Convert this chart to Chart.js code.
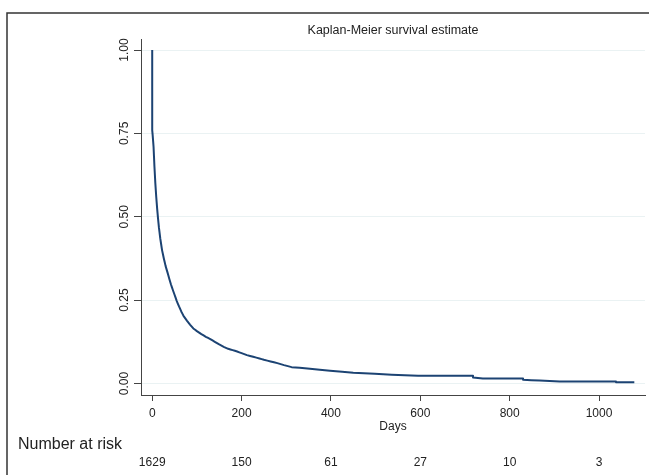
<!DOCTYPE html>
<html>
<head>
<meta charset="utf-8">
<script src="https://cdn.jsdelivr.net/npm/chart.js@4.4.1/dist/chart.umd.min.js"></script>
<style>
  body { margin: 0; background: #fff; }
  canvas { display: block; }
</style>
</head>
<body>
<canvas id="kmChart" width="649" height="475"></canvas>
<script>
// KM curve (days, survival); repeated days mark the visible drops
const days = [0, 0, 1, 3, 5, 7, 9, 11, 13, 15, 18, 22, 26, 30, 34, 38, 42, 46, 50, 55, 60,
  65, 70, 78, 85, 92, 100, 110, 120, 130, 140, 150, 160, 170, 180, 190, 200, 212, 226, 240, 250,
  265, 280, 295, 312, 330, 353, 375, 398, 425, 450, 498, 536, 595, 718, 718, 740, 830, 830, 867,
  912, 1038, 1038, 1079];
const survival = [1.000, 0.76, 0.745, 0.71, 0.65, 0.60, 0.56, 0.525, 0.495, 0.468, 0.435,
  0.400, 0.375, 0.352, 0.334, 0.315, 0.297, 0.281, 0.266, 0.247, 0.231,
  0.216, 0.203, 0.188, 0.176, 0.165, 0.157, 0.148, 0.140, 0.133, 0.125,
  0.117, 0.110, 0.104, 0.100, 0.096, 0.091, 0.085, 0.080, 0.075, 0.071,
  0.066, 0.061, 0.055, 0.049, 0.047, 0.044, 0.041, 0.038, 0.035, 0.032,
  0.029, 0.026, 0.023, 0.023, 0.018, 0.015, 0.015, 0.011, 0.009,
  0.006, 0.006, 0.004, 0.004];

const xTicks = [0, 200, 400, 600, 800, 1000];
const yTicks = [0, 0.25, 0.5, 0.75, 1];

// number at risk table
const riskTimes = [0, 200, 400, 600, 800, 1000];
const riskCounts = [1629, 150, 61, 27, 10, 3];

const FONT = "'Liberation Sans', Arial, sans-serif";
Chart.defaults.font.family = FONT;
Chart.defaults.color = "#222";

// frame + number at risk rows
const extras = {
  id: "extras",
  afterDraw(chart) {
    const ctx = chart.ctx;
    const x = chart.scales.x;
    ctx.save();
    ctx.strokeStyle = "#333";
    ctx.lineWidth = 1.5;
    ctx.strokeRect(7, 13, 700, 600);

    ctx.fillStyle = "#222";
    ctx.textBaseline = "middle";
    ctx.textAlign = "left";
    ctx.font = "16px " + FONT;
    ctx.fillText("Number at risk", 18, 445);

    ctx.font = "12px " + FONT;
    ctx.textAlign = "center";
    riskTimes.forEach(function (t, i) {
      ctx.fillText(String(riskCounts[i]), x.getPixelForValue(t), 463);
    });
    ctx.restore();
  },
};

new Chart(document.getElementById("kmChart"), {
  type: "line",
  data: {
    datasets: [
      {
        data: days.map((d, i) => ({ x: d, y: survival[i] })),
        borderColor: "#1c4373",
        borderWidth: 2,
        borderJoinStyle: "round",
        pointRadius: 0,
        tension: 0.001, // keeps chart.js off its per-pixel fast path
        fill: false,
      },
    ],
  },
  options: {
    responsive: false,
    animation: false,
    layout: { padding: { top: 0, right: 4, bottom: 41, left: 0 } },
    scales: {
      x: {
        type: "linear",
        min: -25.1,
        max: 1102.9,
        afterBuildTicks: (s) => { s.ticks = xTicks.map((v) => ({ value: v })); },
        afterFit: (s) => { s.height = 39; },
        grid: {
          drawOnChartArea: false,
          drawTicks: true,
          tickLength: 6,
          tickColor: "#444",
        },
        border: { display: true, color: "#444", width: 1 },
        ticks: {
          font: { size: 12 },
          color: "#222",
          padding: 5,
          maxRotation: 0,
          callback: (v) => String(v),
        },
        title: {
          display: true,
          text: "Days",
          font: { size: 12 },
          color: "#222",
          padding: 0,
        },
      },
      y: {
        min: -0.0345,
        max: 1.033,
        afterBuildTicks: (s) => { s.ticks = yTicks.map((v) => ({ value: v })); },
        afterFit: (s) => { s.width = 141; },
        grid: {
          color: "#eaf2f3",
          lineWidth: 1,
          tickLength: 7,
          tickColor: "#444",
        },
        border: { display: true, color: "#444", width: 1 },
        ticks: {
          font: { size: 12 },
          color: "#222",
          minRotation: 90,
          maxRotation: 90,
          crossAlign: "center",
          padding: -2,
          callback: (v) => v.toFixed(2),
        },
      },
    },
    plugins: {
      legend: { display: false },
      tooltip: { enabled: false },
      title: {
        display: true,
        text: "Kaplan-Meier survival estimate",
        fullSize: false,
        font: { size: 12.5, weight: "normal" },
        color: "#222",
        padding: { top: 23, bottom: 1 },
      },
    },
  },
  plugins: [extras],
});
</script>
</body>
</html>
